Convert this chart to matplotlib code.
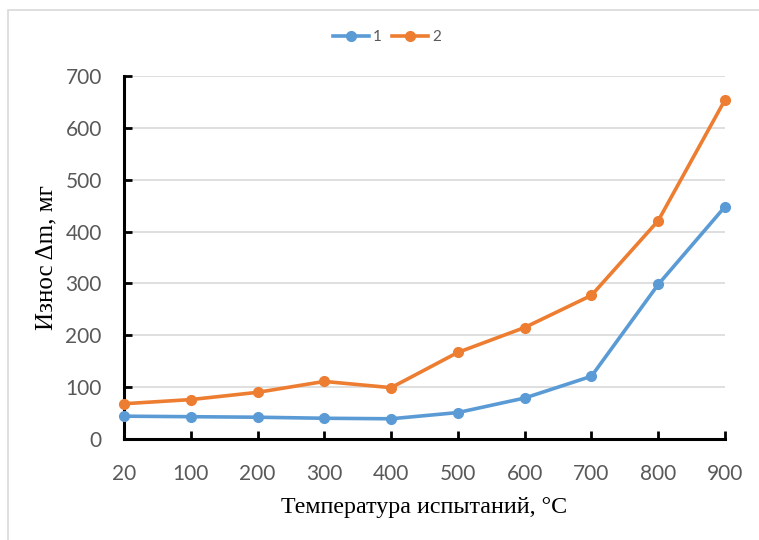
import matplotlib
matplotlib.use("Agg")
import matplotlib.pyplot as plt
from matplotlib.patches import Rectangle

categories = ["20", "100", "200", "300", "400", "500", "600", "700", "800", "900"]
series1 = [44, 43, 42, 40, 39, 51, 79, 121, 298, 448]
series2 = [68, 76, 90, 111, 99, 167, 215, 277, 421, 654]
yticks = [0, 100, 200, 300, 400, 500, 600, 700]

W, H = 759, 540
fig = plt.figure(figsize=(W / 100, H / 100), dpi=100)
ax = fig.add_axes([124 / W, 1 - 439 / H, (725 - 124) / W, (439 - 76) / H])

# chart border (cropped)
fig.patches.append(Rectangle((8 / W, -0.1), 1.2, 1 - 10 / H + 0.1, transform=fig.transFigure,
                             fill=False, edgecolor="#D9D9D9", linewidth=1.2))

x = list(range(len(categories)))
ax.plot(x, series1, color="#5B9BD5", lw=2.6, marker="o", ms=7, label="1", zorder=3, clip_on=False)
ax.plot(x, series2, color="#ED7D31", lw=2.6, marker="o", ms=7, label="2", zorder=3, clip_on=False)

ax.set_xlim(0, len(categories) - 1)
ax.set_ylim(0, 700)
ax.set_xticks(x)
ax.set_xticklabels(categories)
ax.set_yticks(yticks)
ax.yaxis.grid(True, color="#D9D9D9", lw=1.2)
ax.set_axisbelow(True)

for s in ["top", "right"]:
    ax.spines[s].set_visible(False)
for s in ["left", "bottom"]:
    ax.spines[s].set_color("black")
    ax.spines[s].set_linewidth(2.2)

ax.tick_params(axis="both", direction="in", length=6, width=2, color="black",
               labelsize=15, labelcolor="#595959")
ax.tick_params(axis="x", pad=18)
ax.tick_params(axis="y", pad=16)
for lab in ax.get_xticklabels() + ax.get_yticklabels():
    lab.set_family("Lato")

ax.set_xlabel("Температура испытаний, °C", family="Liberation Serif", fontsize=17.3, color="black", labelpad=9)
ax.set_ylabel("Износ Δm, мг", family="Liberation Serif", fontsize=18, color="black", labelpad=6)

leg = ax.legend(loc="center", bbox_to_anchor=(387 / W, 1 - 37 / H), bbox_transform=fig.transFigure,
                ncol=2, frameon=False, prop={"family": "Lato", "size": 11},
                handlelength=2.35, columnspacing=0.7, handletextpad=0.25, markerscale=1.0)
for t in leg.get_texts():
    t.set_color("#595959")

fig.savefig("out.png", dpi=100)
